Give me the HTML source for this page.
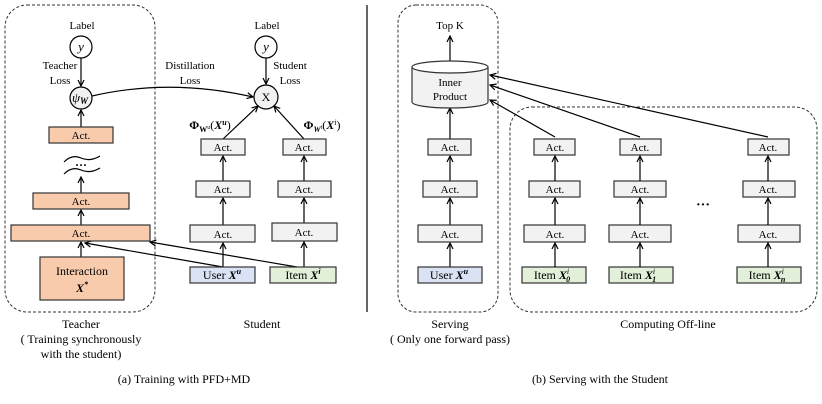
<!DOCTYPE html>
<html><head><meta charset="utf-8"><style>
html,body{margin:0;padding:0;background:#fff;}
svg{display:block;font-family:"Liberation Serif",serif;}
</style></head><body>
<svg width="822" height="404" viewBox="0 0 822 404" xmlns="http://www.w3.org/2000/svg">
<defs>
<marker id="a" markerWidth="8" markerHeight="8" refX="7" refY="4" orient="auto" markerUnits="userSpaceOnUse">
<path d="M1,1 L7,4 L1,7" fill="none" stroke="#000" stroke-width="1.2"/>
</marker>
</defs>
<g fill="none" stroke="#333" stroke-width="1" stroke-dasharray="3,2">
<rect x="5" y="5" width="150" height="307" rx="22"/>
<rect x="398" y="5" width="100" height="307" rx="18"/>
<rect x="510" y="107" width="307" height="205" rx="22"/>
</g>
<line x1="367" y1="5" x2="367" y2="312" stroke="#000" stroke-width="1.2"/>

<g font-size="11" text-anchor="middle" fill="#000">
<text x="82" y="29">Label</text>
<text x="267" y="29">Label</text>
<text x="60" y="69">Teacher</text><text x="60" y="84">Loss</text>
<text x="190" y="69">Distillation</text><text x="190" y="84">Loss</text>
<text x="290" y="69">Student</text><text x="290" y="84">Loss</text>
<text x="450" y="29">Top K</text>
</g>

<g stroke="#000" stroke-width="1.2">
<circle cx="81" cy="47" r="11" fill="#fff"/>
<circle cx="81" cy="98" r="11" fill="#f2f2f2"/>
<circle cx="266" cy="47" r="11" fill="#fff"/>
<circle cx="266" cy="97" r="12" fill="#f2f2f2"/>
</g>
<g font-size="13" text-anchor="middle" font-style="italic">
<text x="81" y="51">y</text><text x="266" y="51">y</text>
<text x="80" y="102">ψ<tspan font-size="9" font-weight="bold" dy="2">W</tspan></text>
</g>
<text x="266" y="101" font-size="12" text-anchor="middle">X</text>

<g stroke="#000" stroke-width="1.2" fill="none" marker-end="url(#a)">
<line x1="81" y1="58" x2="81" y2="86"/>
<line x1="266" y1="58" x2="266" y2="84"/>
<path d="M92,96 Q170,78 253,97"/>
<line x1="81" y1="127" x2="81" y2="110"/>
<line x1="81" y1="193" x2="81" y2="177"/>
<line x1="81" y1="225" x2="81" y2="210"/>
<line x1="81" y1="257" x2="81" y2="242"/>
<line x1="223" y1="267" x2="85" y2="243"/>
<line x1="297" y1="267" x2="150" y2="242"/>
<line x1="223" y1="139" x2="258" y2="106"/>
<line x1="304" y1="139" x2="274" y2="106"/>
<line x1="223" y1="181" x2="223" y2="156"/>
<line x1="223" y1="225" x2="223" y2="198"/>
<line x1="223" y1="267" x2="223" y2="243"/>
<line x1="304" y1="181" x2="304" y2="156"/>
<line x1="304" y1="223" x2="304" y2="198"/>
<line x1="304" y1="267" x2="304" y2="242"/>
<line x1="450" y1="62" x2="450" y2="36"/>
<line x1="450" y1="139" x2="450" y2="108"/>
<line x1="450" y1="181" x2="450" y2="156"/>
<line x1="450" y1="225" x2="450" y2="198"/>
<line x1="450" y1="267" x2="450" y2="243"/>
<line x1="555" y1="137" x2="490" y2="100"/>
<line x1="640" y1="137" x2="490" y2="85"/>
<line x1="768" y1="137" x2="490" y2="75"/>
</g>
<g stroke="#000" stroke-width="1.2" fill="none">
<path d="M64,162 Q72,154 81,158 T100,156"/>
<path d="M64,174 Q72,166 81,170 T100,168"/>
</g>
<text x="81" y="169" font-size="12" text-anchor="middle" font-weight="bold">···</text>

<g stroke="#333" stroke-width="1.2">
<rect x="49" y="127" width="64" height="16" fill="#f8cbad"/>
<rect x="33" y="193" width="96" height="16" fill="#f8cbad"/>
<rect x="11" y="225" width="139" height="16" fill="#f8cbad"/>
<rect x="40" y="257" width="84" height="43" fill="#f8cbad"/>
<rect x="201" y="139" width="44" height="16" fill="#f2f2f2"/>
<rect x="196" y="181" width="54" height="16" fill="#f2f2f2"/>
<rect x="190" y="225" width="65" height="17" fill="#f2f2f2"/>
<rect x="190" y="267" width="65" height="16" fill="#dae3f3"/>
<rect x="283" y="139" width="43" height="16" fill="#f2f2f2"/>
<rect x="278" y="181" width="53" height="16" fill="#f2f2f2"/>
<rect x="272" y="223" width="65" height="18" fill="#f2f2f2"/>
<rect x="270" y="267" width="66" height="16" fill="#e2f0d9"/>
<rect x="428" y="139" width="43" height="16" fill="#f2f2f2"/>
<rect x="423" y="181" width="54" height="16" fill="#f2f2f2"/>
<rect x="418" y="225" width="64" height="17" fill="#f2f2f2"/>
<rect x="418" y="267" width="64" height="16" fill="#dae3f3"/>
<rect x="534" y="139" width="41" height="16" fill="#f2f2f2"/>
<rect x="529" y="181" width="51" height="16" fill="#f2f2f2"/>
<rect x="524" y="225" width="61" height="17" fill="#f2f2f2"/>
<rect x="522" y="267" width="64" height="16" fill="#e2f0d9"/>
<rect x="620" y="139" width="41" height="16" fill="#f2f2f2"/>
<rect x="614" y="181" width="52" height="16" fill="#f2f2f2"/>
<rect x="609" y="225" width="62" height="17" fill="#f2f2f2"/>
<rect x="609" y="267" width="64" height="16" fill="#e2f0d9"/>
<rect x="748" y="139" width="41" height="16" fill="#f2f2f2"/>
<rect x="743" y="181" width="52" height="16" fill="#f2f2f2"/>
<rect x="738" y="225" width="62" height="17" fill="#f2f2f2"/>
<rect x="737" y="267" width="64" height="16" fill="#e2f0d9"/>
<path d="M412,67 L412,102 A38,6 0 0 0 488,102 L488,67" fill="#f2f2f2"/>
<ellipse cx="450" cy="67" rx="38" ry="6" fill="#fff"/>
</g>
<g stroke="#000" stroke-width="1.2" fill="none" marker-end="url(#a)">
<line x1="555" y1="181" x2="555" y2="156"/><line x1="555" y1="225" x2="555" y2="198"/><line x1="555" y1="267" x2="555" y2="243"/>
<line x1="640" y1="181" x2="640" y2="156"/><line x1="640" y1="225" x2="640" y2="198"/><line x1="640" y1="267" x2="640" y2="243"/>
<line x1="768" y1="181" x2="768" y2="156"/><line x1="768" y1="225" x2="768" y2="198"/><line x1="768" y1="267" x2="768" y2="243"/>
</g>

<g font-size="11" text-anchor="middle">
<text x="81" y="139">Act.</text><text x="81" y="205">Act.</text><text x="81" y="237">Act.</text>
<text x="82" y="275" font-size="12">Interaction</text>
<text x="82" y="292" font-size="12" font-weight="bold" font-style="italic">X<tspan font-size="8" dy="-5">*</tspan></text>
<text x="223" y="151">Act.</text><text x="223" y="193">Act.</text><text x="223" y="238">Act.</text>
<text x="304" y="151">Act.</text><text x="304" y="193">Act.</text><text x="304" y="236">Act.</text>
<text x="450" y="151">Act.</text><text x="450" y="193">Act.</text><text x="450" y="238">Act.</text>
<text x="555" y="151">Act.</text><text x="555" y="193">Act.</text><text x="555" y="238">Act.</text>
<text x="640" y="151">Act.</text><text x="640" y="193">Act.</text><text x="640" y="238">Act.</text>
<text x="768" y="151">Act.</text><text x="768" y="193">Act.</text><text x="768" y="238">Act.</text>
<text x="222" y="279" font-size="12">User <tspan font-weight="bold" font-style="italic">X</tspan><tspan font-size="8" dy="-5" font-weight="bold" font-style="italic">u</tspan></text>
<text x="303" y="279" font-size="12">Item <tspan font-weight="bold" font-style="italic">X</tspan><tspan font-size="8" dy="-5" font-weight="bold" font-style="italic">i</tspan></text>
<text x="449" y="279" font-size="12">User <tspan font-weight="bold" font-style="italic">X</tspan><tspan font-size="8" dy="-5" font-weight="bold" font-style="italic">u</tspan></text>
<text x="552" y="279" font-size="12">Item <tspan font-weight="bold" font-style="italic">X</tspan><tspan font-size="8" dy="-5" font-style="italic">i</tspan><tspan font-size="8" dx="-3" dy="8" font-weight="bold" font-style="italic">0</tspan></text>
<text x="638" y="279" font-size="12">Item <tspan font-weight="bold" font-style="italic">X</tspan><tspan font-size="8" dy="-5" font-style="italic">i</tspan><tspan font-size="8" dx="-3" dy="8" font-weight="bold" font-style="italic">1</tspan></text>
<text x="767" y="279" font-size="12">Item <tspan font-weight="bold" font-style="italic">X</tspan><tspan font-size="8" dy="-5" font-style="italic">i</tspan><tspan font-size="8" dx="-3" dy="8" font-weight="bold" font-style="italic">n</tspan></text>
<text x="450" y="86">Inner</text><text x="450" y="100">Product</text>
<text x="210" y="129" font-size="12"><tspan font-weight="bold">Φ</tspan><tspan font-size="8" dy="3" font-weight="bold">W</tspan><tspan font-size="6" dy="-3">u</tspan><tspan dy="0">(</tspan><tspan font-weight="bold" font-style="italic">X</tspan><tspan font-size="8" dy="-4" font-weight="bold" font-style="italic">u</tspan><tspan dy="4">)</tspan></text>
<text x="322" y="129" font-size="12"><tspan font-weight="bold">Φ</tspan><tspan font-size="8" dy="3" font-weight="bold" font-style="italic">W</tspan><tspan font-size="6" dy="-3">i</tspan><tspan>(</tspan><tspan font-weight="bold" font-style="italic">X</tspan><tspan font-size="8" dy="-4" font-style="italic">i</tspan><tspan dy="4">)</tspan></text>
</g>
<text x="703" y="209" font-size="14" text-anchor="middle" font-weight="bold">···</text>

<g font-size="12" text-anchor="middle">
<text x="81" y="328">Teacher</text>
<text x="81" y="343">( Training synchronously</text>
<text x="81" y="358">with the student)</text>
<text x="262" y="328">Student</text>
<text x="450" y="328">Serving</text>
<text x="450" y="343">( Only one forward pass)</text>
<text x="668" y="328">Computing Off-line</text>
<text x="184" y="383">(a) Training with PFD+MD</text>
<text x="600" y="383">(b) Serving with the Student</text>
</g>
</svg>
</body></html>
